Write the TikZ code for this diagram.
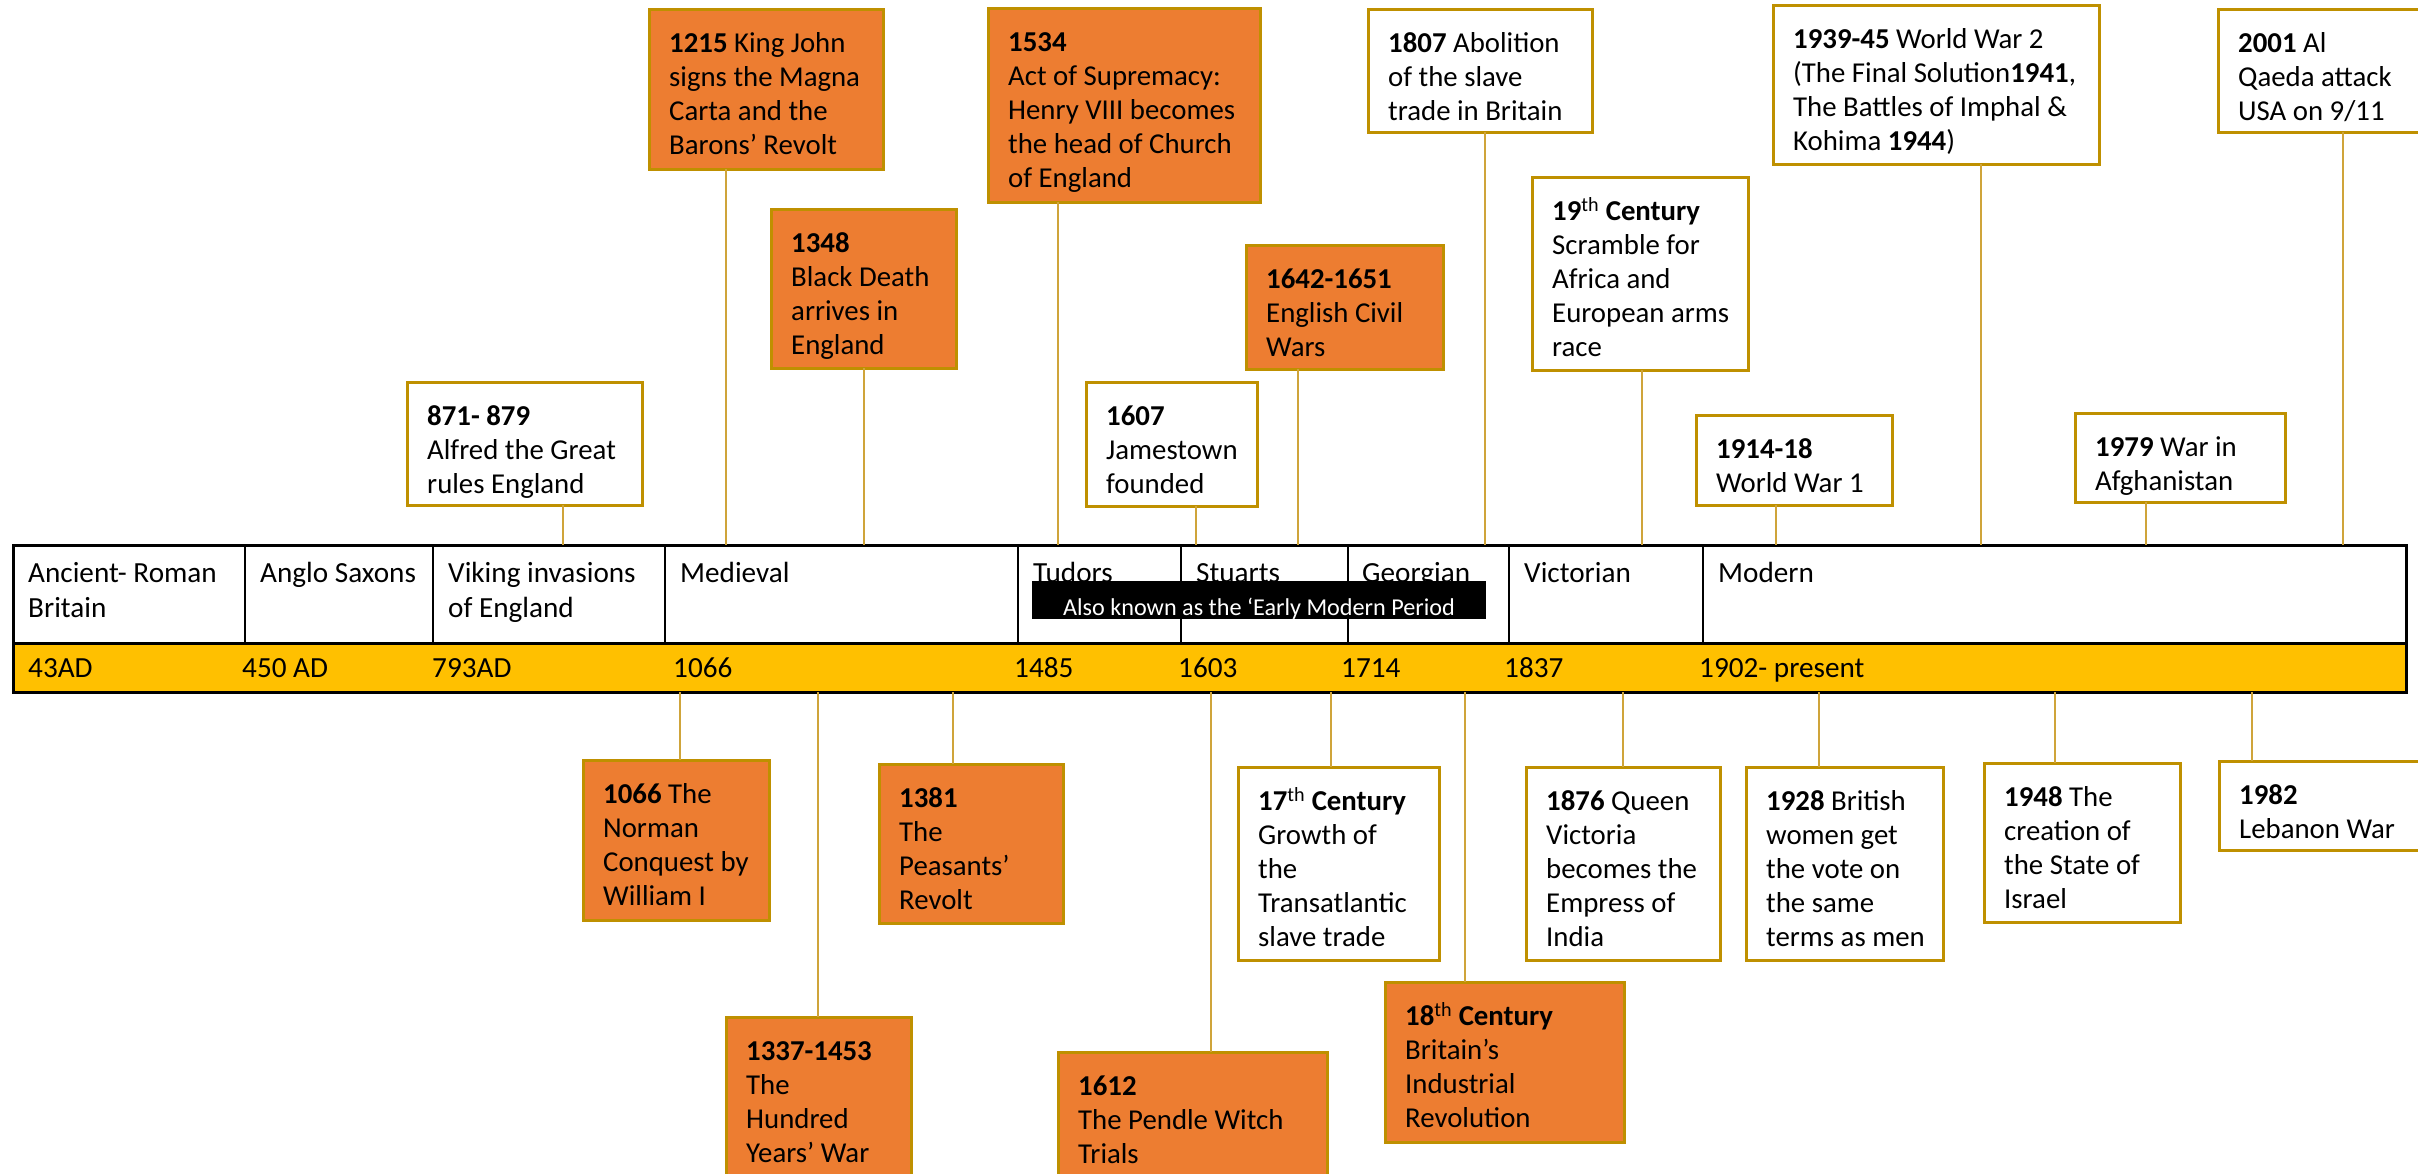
\documentclass[tikz,border=0pt]{standalone}
\usepackage{fontspec}
\setmainfont{Carlito}
\definecolor{evorange}{HTML}{ED7D31}
\definecolor{boxgold}{HTML}{BF9000}
\definecolor{congold}{HTML}{CFA43A}
\definecolor{baryellow}{HTML}{FFC000}
\newcommand\myevfont{\fontsize{28.8}{34}\selectfont}
\newcommand\mytlfont{\fontsize{29.2}{35}\selectfont}
\tikzset{
  evbox/.style={draw=boxgold, line width=3pt, inner sep=0pt, outer sep=0pt},
  orangebox/.style={evbox, fill=evorange},
  whitebox/.style={evbox, fill=white},
  evtext/.style={anchor=north west, inner sep=0pt, align=left, font=\myevfont},
  tltext/.style={inner sep=0pt, align=left, font=\mytlfont},
  conn/.style={draw=congold, line width=2pt},
  rowbox/.style={draw=black, line width=3pt, inner sep=0pt, outer sep=0pt, anchor=north west},
  divider/.style={draw=black, line width=2.5pt},
}
\newcommand\ev[8]{%
  \node[#2, anchor=north west, minimum width={#5-#3}, minimum height={#6-#4}] (#1) at (#3,#4) {};
  \node[evtext] (#1-t) at ([xshift=20pt]#1.north west) {\rule{0pt}{43pt}#8};
  \coordinate (#1-x) at (#7,0);
}
\newcommand\upcon[1]{\draw[conn] (#1.south -| #1-x) -- (periods.north -| #1-x);}
\newcommand\downcon[1]{\draw[conn] (dates.south -| #1-x) -- (#1.north -| #1-x);}
\begin{document}
\begin{tikzpicture}[x=1pt,y=-1pt]
\useasboundingbox[fill=white] (0,0) rectangle (2418,1173);

% timeline bar
\node[rowbox, fill=baryellow, minimum width=2393, minimum height=49] (dates) at (13,643) {};
\node[rowbox, fill=white, minimum width=2393, minimum height=98] (periods) at (13,545) {};
\foreach \x [count=\i] in {245,433,665,1018,1181,1348,1509,1703}{
  \coordinate (div\i) at (\x,0);
  \draw[divider] (periods.north -| div\i) -- (periods.south -| div\i);
}

% period labels
\node[tltext, anchor=north west] (p1) at (28,545) {\rule{0pt}{37pt}Ancient- Roman\\Britain};
\node[tltext, anchor=north west] (p2) at (260,545) {\rule{0pt}{37pt}Anglo Saxons};
\node[tltext, anchor=north west] (p3) at (448,545) {\rule{0pt}{37pt}Viking invasions\\of England};
\node[tltext, anchor=north west] (p4) at (680,545) {\rule{0pt}{37pt}Medieval};
\node[tltext, anchor=north west] (p5) at (1033,545) {\rule{0pt}{37pt}Tudors};
\node[tltext, anchor=north west] (p6) at (1196,545) {\rule{0pt}{37pt}Stuarts};
\node[tltext, anchor=north west] (p7) at (1362,545) {\rule{0pt}{37pt}Georgian};
\node[tltext, anchor=north west] (p8) at (1524,545) {\rule{0pt}{37pt}Victorian};
\node[tltext, anchor=north west] (p9) at (1718,545) {\rule{0pt}{37pt}Modern};

% year labels
\node[tltext, anchor=base west] (y1) at (28,677) {43AD};
\node[tltext, anchor=base west] (y2) at (242,677) {450 AD};
\node[tltext, anchor=base west] (y3) at (432,677) {793AD};
\node[tltext, anchor=base west] (y4) at (673,677) {1066};
\node[tltext, anchor=base west] (y5) at (1014,677) {1485};
\node[tltext, anchor=base west] (y6) at (1178,677) {1603};
\node[tltext, anchor=base west] (y7) at (1341,677) {1714};
\node[tltext, anchor=base west] (y8) at (1504,677) {1837};
\node[tltext, anchor=base west] (y9) at (1699,677) {1902- present};

% early modern banner
\node[fill=black, anchor=north west, minimum width=454, minimum height=38, inner sep=0pt, outer sep=0pt] (emp) at (1032,581) {};
\node[font=\fontsize{24.2}{28}\selectfont, text=white, anchor=base, inner sep=0pt] (empt) at ([yshift=4pt]emp.south) {Also known as the ‘Early Modern Period};

% events above
\ev{t871}{whitebox}{407}{382}{642}{505}{563}{\textbf{871- 879}\\Alfred the Great\\rules England}
\ev{t1215}{orangebox}{649}{9}{883}{169}{726}{\textbf{1215} King John\\signs the Magna\\Carta and the\\Barons’ Revolt}
\ev{t1348}{orangebox}{771}{209}{956}{368}{864}{\textbf{1348}\\Black Death\\arrives in\\England}
\ev{t1534}{orangebox}{988}{8}{1260}{202}{1058}{\textbf{1534}\\Act of Supremacy:\\Henry VIII becomes\\the head of Church\\of England}
\ev{t1607}{whitebox}{1086}{382}{1257}{506}{1196}{\textbf{1607}\\Jamestown\\founded}
\ev{t1642}{orangebox}{1246}{245}{1443}{369}{1298}{\textbf{1642-1651}\\English Civil\\Wars}
\ev{t1807}{whitebox}{1368}{9}{1592}{132}{1485}{\textbf{1807} Abolition\\of the slave\\trade in Britain}
\ev{t19c}{whitebox}{1532}{177}{1748}{370}{1642}{\textbf{19}\textsuperscript{th} \textbf{Century}\\Scramble for\\Africa and\\European arms\\race}
\ev{t1914}{whitebox}{1696}{415}{1892}{505}{1776}{\textbf{1914-18}\\World War 1}
\ev{t1939}{whitebox}{1773}{5}{2099}{164}{1981}{\textbf{1939-45} World War 2\\(The Final Solution\textbf{1941},\\The Battles of Imphal \&\\Kohima \textbf{1944})}
\ev{t1979}{whitebox}{2075}{413}{2285}{502}{2146}{\textbf{1979} War in\\Afghanistan}
\ev{t2001}{whitebox}{2218}{9}{2425}{132}{2343}{\textbf{2001} Al\\Qaeda attack\\USA on 9/11}

% events below
\ev{b1066}{orangebox}{583}{760}{769}{920}{680}{\textbf{1066} The\\Norman\\Conquest by\\William I}
\ev{b1337}{orangebox}{726}{1017}{911}{1180}{818}{\textbf{1337-1453}\\The\\Hundred\\Years’ War}
\ev{b1381}{orangebox}{879}{764}{1063}{923}{953}{\textbf{1381}\\The\\Peasants’\\Revolt}
\ev{b1612}{orangebox}{1058}{1052}{1327}{1180}{1211}{\textbf{1612}\\The Pendle Witch\\Trials}
\ev{b17c}{whitebox}{1238}{767}{1439}{960}{1331}{\textbf{17}\textsuperscript{th} \textbf{Century}\\Growth of\\the\\Transatlantic\\slave trade}
\ev{b18c}{orangebox}{1385}{982}{1624}{1142}{1465}{\textbf{18}\textsuperscript{th} \textbf{Century}\\Britain’s\\Industrial\\Revolution}
\ev{b1876}{whitebox}{1526}{767}{1720}{960}{1623}{\textbf{1876} Queen\\Victoria\\becomes the\\Empress of\\India}
\ev{b1928}{whitebox}{1746}{767}{1943}{960}{1819}{\textbf{1928} British\\women get\\the vote on\\the same\\terms as men}
\ev{b1948}{whitebox}{1984}{763}{2180}{922}{2055}{\textbf{1948} The\\creation of\\the State of\\Israel}
\ev{b1982}{whitebox}{2219}{761}{2425}{850}{2252}{\textbf{1982}\\Lebanon War}

% connectors
\upcon{t871}\upcon{t1215}\upcon{t1348}\upcon{t1534}\upcon{t1607}\upcon{t1642}
\upcon{t1807}\upcon{t19c}\upcon{t1914}\upcon{t1939}\upcon{t1979}\upcon{t2001}
\downcon{b1066}\downcon{b1337}\downcon{b1381}\downcon{b1612}\downcon{b17c}
\downcon{b18c}\downcon{b1876}\downcon{b1928}\downcon{b1948}\downcon{b1982}
\end{tikzpicture}
\end{document}
